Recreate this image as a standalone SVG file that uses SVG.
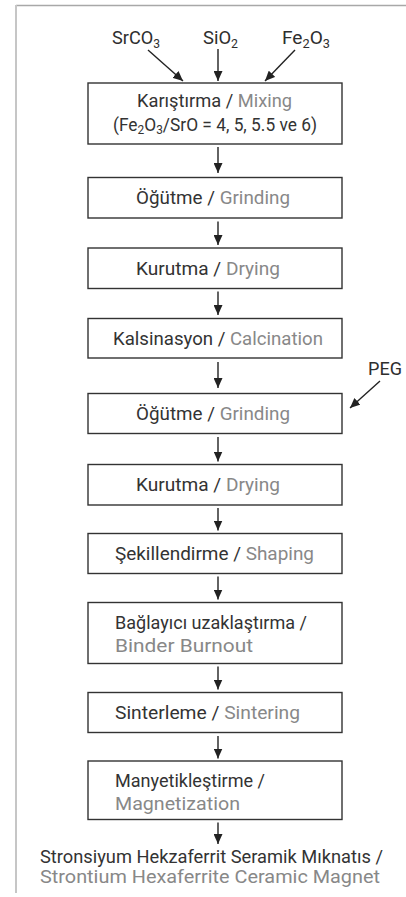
<svg xmlns="http://www.w3.org/2000/svg" width="406" height="897" viewBox="0 0 406 897">
<style>
.box{fill:#fff;stroke:#333;stroke-width:1.4}
.t{font-family:Roboto,"Open Sans","Liberation Sans",sans-serif;font-size:17.5px;fill:#333}
.en{fill:#888}
.lbl{font-family:Roboto,"Open Sans","Liberation Sans",sans-serif;font-size:18px;fill:#2e2e2e}
.sub{font-size:12px}
.c{stroke:#222;stroke-width:1.4;fill:none;marker-end:url(#ah)}
</style>
<defs>
<marker id="ah" markerUnits="userSpaceOnUse" markerWidth="10" markerHeight="9" refX="10" refY="4.5" orient="auto">
<path d="M0,0 L10,4.5 L0,9 z" fill="#222"/>
</marker>
</defs>
<rect width="406" height="897" fill="#fff"/>
<g id="frame">
<line x1="16" y1="5.5" x2="406" y2="5.5" stroke="#a8a8a8" stroke-width="1.3"/>
<line x1="16" y1="5" x2="16" y2="893" stroke="#c6c6c6" stroke-width="2"/>
</g>
<g id="inputs">
<text class="lbl" x="112" y="44" textLength="48" lengthAdjust="spacingAndGlyphs">SrCO<tspan class="sub" dy="4">3</tspan></text>
<text class="lbl" x="203" y="44" textLength="35" lengthAdjust="spacingAndGlyphs">SiO<tspan class="sub" dy="4">2</tspan></text>
<text class="lbl" x="282" y="44" textLength="48" lengthAdjust="spacingAndGlyphs">Fe<tspan class="sub" dy="4">2</tspan><tspan dy="-4">O</tspan><tspan class="sub" dy="4">3</tspan></text>
<text class="lbl" x="368" y="375" textLength="34" lengthAdjust="spacingAndGlyphs">PEG</text>
</g>
<g id="connectors">
<line class="c" x1="148" y1="50" x2="183" y2="81"/>
<line class="c" x1="218" y1="49" x2="218" y2="81"/>
<line class="c" x1="295" y1="50" x2="265" y2="81"/>
<line class="c" x1="380" y1="381" x2="350" y2="408"/>
<line class="c" x1="218" y1="147" x2="218" y2="173"/>
<line class="c" x1="218" y1="221.5" x2="218" y2="245"/>
<line class="c" x1="218" y1="291.5" x2="218" y2="315"/>
<line class="c" x1="218" y1="362" x2="218" y2="388"/>
<line class="c" x1="218" y1="437" x2="218" y2="461.5"/>
<line class="c" x1="218" y1="508" x2="218" y2="530.5"/>
<line class="c" x1="218" y1="576.5" x2="218" y2="599.5"/>
<line class="c" x1="218" y1="666.5" x2="218" y2="689.5"/>
<line class="c" x1="218" y1="736" x2="218" y2="758.5"/>
<line class="c" x1="218" y1="822.5" x2="218" y2="844"/>
</g>
<g id="n1">
<rect class="box" x="88" y="83" width="254" height="61"/>
<text class="t" x="137" y="107" textLength="155" lengthAdjust="spacingAndGlyphs">Karıştırma / <tspan class="en">Mixing</tspan></text>
<text class="t" x="113" y="131" textLength="204" lengthAdjust="spacingAndGlyphs">(Fe<tspan class="sub" dy="3">2</tspan><tspan dy="-3">O</tspan><tspan class="sub" dy="3">3</tspan><tspan dy="-3">/SrO = 4, 5, 5.5 ve 6)</tspan></text>
</g>
<g id="n2">
<rect class="box" x="88" y="177.5" width="254" height="40.5"/>
<text class="t" x="136" y="204" textLength="154" lengthAdjust="spacingAndGlyphs">Öğütme / <tspan class="en">Grinding</tspan></text>
</g>
<g id="n3">
<rect class="box" x="88" y="248" width="254" height="40.5"/>
<text class="t" x="136" y="274.5" textLength="144" lengthAdjust="spacingAndGlyphs">Kurutma / <tspan class="en">Drying</tspan></text>
</g>
<g id="n4">
<rect class="box" x="88" y="318.5" width="254" height="39.5"/>
<text class="t" x="113" y="344.5" textLength="210" lengthAdjust="spacingAndGlyphs">Kalsinasyon / <tspan class="en">Calcination</tspan></text>
</g>
<g id="n5">
<rect class="box" x="88" y="393.5" width="254" height="40"/>
<text class="t" x="136" y="419.5" textLength="154" lengthAdjust="spacingAndGlyphs">Öğütme / <tspan class="en">Grinding</tspan></text>
</g>
<g id="n6">
<rect class="box" x="88" y="464.5" width="254" height="40.5"/>
<text class="t" x="136" y="491" textLength="144" lengthAdjust="spacingAndGlyphs">Kurutma / <tspan class="en">Drying</tspan></text>
</g>
<g id="n7">
<rect class="box" x="88" y="533.5" width="254" height="40"/>
<text class="t" x="115" y="559.5" textLength="199" lengthAdjust="spacingAndGlyphs">Şekillendirme / <tspan class="en">Shaping</tspan></text>
</g>
<g id="n8">
<rect class="box" x="88" y="602.5" width="254" height="61"/>
<text class="t" x="115" y="628.5" textLength="192" lengthAdjust="spacingAndGlyphs">Bağlayıcı uzaklaştırma /</text>
<text class="t en" x="115" y="652" textLength="138" lengthAdjust="spacingAndGlyphs">Binder Burnout</text>
</g>
<g id="n9">
<rect class="box" x="88" y="692.5" width="254" height="40"/>
<text class="t" x="115" y="718.5" textLength="185" lengthAdjust="spacingAndGlyphs">Sinterleme / <tspan class="en">Sintering</tspan></text>
</g>
<g id="n10">
<rect class="box" x="88" y="761" width="254" height="58.5"/>
<text class="t" x="115" y="787" textLength="150" lengthAdjust="spacingAndGlyphs">Manyetikleştirme /</text>
<text class="t en" x="115" y="810" textLength="125" lengthAdjust="spacingAndGlyphs">Magnetization</text>
</g>
<g id="result">
<text class="t" x="40" y="863" textLength="343" lengthAdjust="spacingAndGlyphs">Stronsiyum Hekzaferrit Seramik Mıknatıs /</text>
<text class="t en" x="40" y="883" textLength="340" lengthAdjust="spacingAndGlyphs">Strontium Hexaferrite Ceramic Magnet</text>
</g>
</svg>
